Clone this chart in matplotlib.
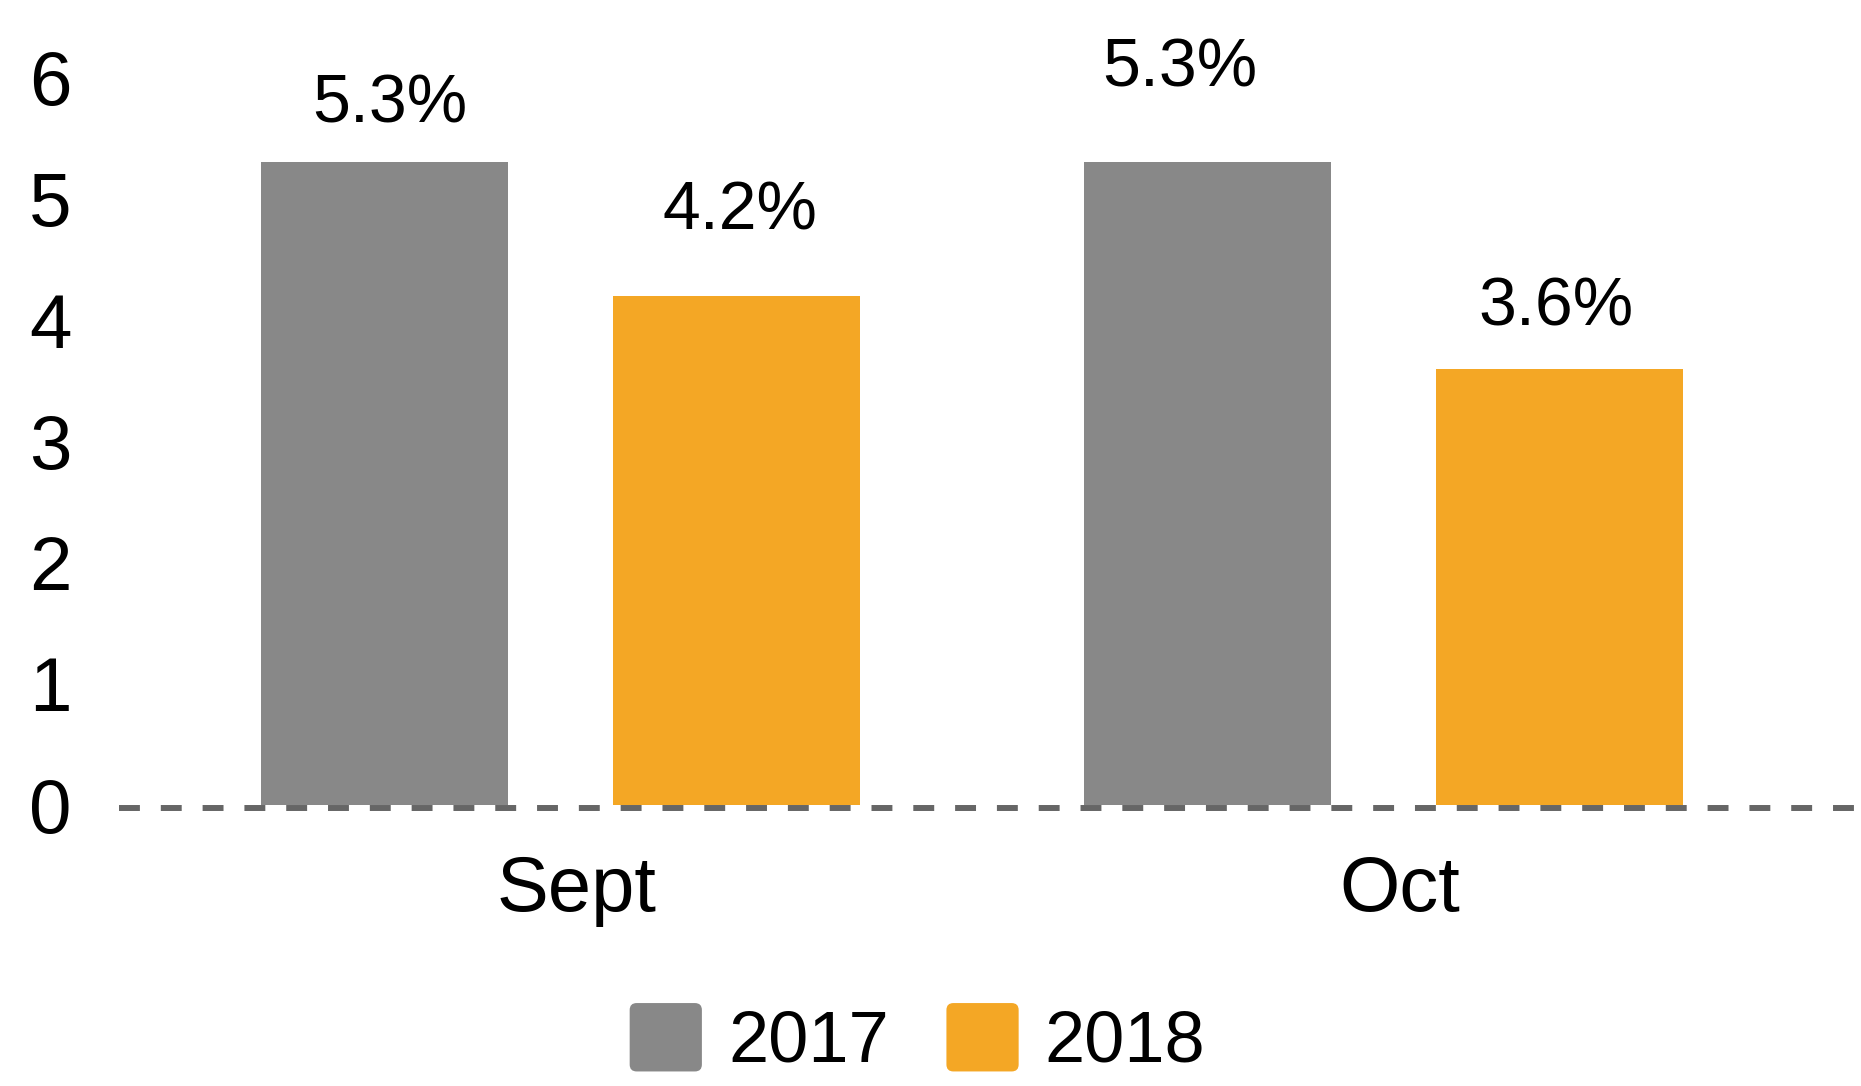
import matplotlib.pyplot as plt
import matplotlib.transforms as mtransforms
from matplotlib.patches import FancyBboxPatch, Patch
from matplotlib.legend_handler import HandlerPatch
import numpy as np

plt.rcParams['font.family'] = ['Liberation Sans', 'DejaVu Sans']

# data
months = ['Sept', 'Oct']
series_names = ['2017', '2018']
values_2017 = [5.3, 5.3]
values_2018 = [4.2, 3.6]
labels_2017 = ['5.3%', '5.3%']
labels_2018 = ['4.2%', '3.6%']
yticks = [0, 1, 2, 3, 4, 5, 6]

gray = '#888888'
orange = '#F4A725'

# label nudges (points) - the source placed them a bit unevenly
offsets_2017 = [(4, 29), (-20, 55)]
offsets_2018 = [(2, 48), (-3, 31)]


class RoundHandler(HandlerPatch):
    def create_artists(self, legend, orig_handle, xdescent, ydescent,
                       width, height, fontsize, trans):
        p = FancyBboxPatch((-xdescent, -ydescent), width, height,
                           boxstyle="round,pad=0,rounding_size=5",
                           fc=orig_handle.get_facecolor(), ec='none',
                           transform=trans)
        return [p]


fig = plt.figure(figsize=(18.61, 10.86), dpi=100)
ax = fig.add_axes([0.0639, 0.2585, 0.9361, 0.7259])

x = np.arange(len(months))
w = 0.30
d = 0.214

b1 = ax.bar(x - d, values_2017, w, color=gray, zorder=2)
b2 = ax.bar(x + d, values_2018, w, color=orange, zorder=2)

for bars, labs, offs in [(b1, labels_2017, offsets_2017), (b2, labels_2018, offsets_2018)]:
    for rect, lab, (dx, dy) in zip(bars, labs, offs):
        ax.annotate(lab, (rect.get_x() + rect.get_width() / 2, rect.get_height()),
                    xytext=(dx, dy), textcoords='offset points',
                    ha='center', va='baseline', fontsize=49, color='black')

# dashed zero line, sits a few px below the bar bottoms
zero = ax.axhline(0, color='#666666', linewidth=4.3, linestyle=(0, (3.5, 3.5)),
                  zorder=3)
zero.set_dash_capstyle('butt')
down = mtransforms.ScaledTranslation(0, -3 / 100, fig.dpi_scale_trans)
zero.set_transform(zero.get_transform() + down)
zero.set_clip_on(False)

ax.set_xlim(-0.537, 1.58)
ax.set_ylim(0, 6.5)
ax.set_yticks(yticks)
ax.set_xticks(x)
ax.set_xticklabels(months)
ax.tick_params(axis='y', length=0, pad=34, labelsize=55)
ax.tick_params(axis='x', length=0, pad=35, labelsize=56)
shift = mtransforms.ScaledTranslation(16 / 100, 0, fig.dpi_scale_trans)
for lab in ax.get_xticklabels():
    lab.set_transform(lab.get_transform() + shift)

for s in ax.spines.values():
    s.set_visible(False)

handles = [Patch(facecolor=gray), Patch(facecolor=orange)]
fig.legend(handles, series_names, loc='center', bbox_to_anchor=(0.493, 0.0424),
           ncol=2, frameon=False, fontsize=52, handlelength=1.0, handleheight=1.08,
           handletextpad=0.36, columnspacing=0.8, borderpad=0, borderaxespad=0,
           handler_map={Patch: RoundHandler()})

fig.savefig('out.png', dpi=100)
